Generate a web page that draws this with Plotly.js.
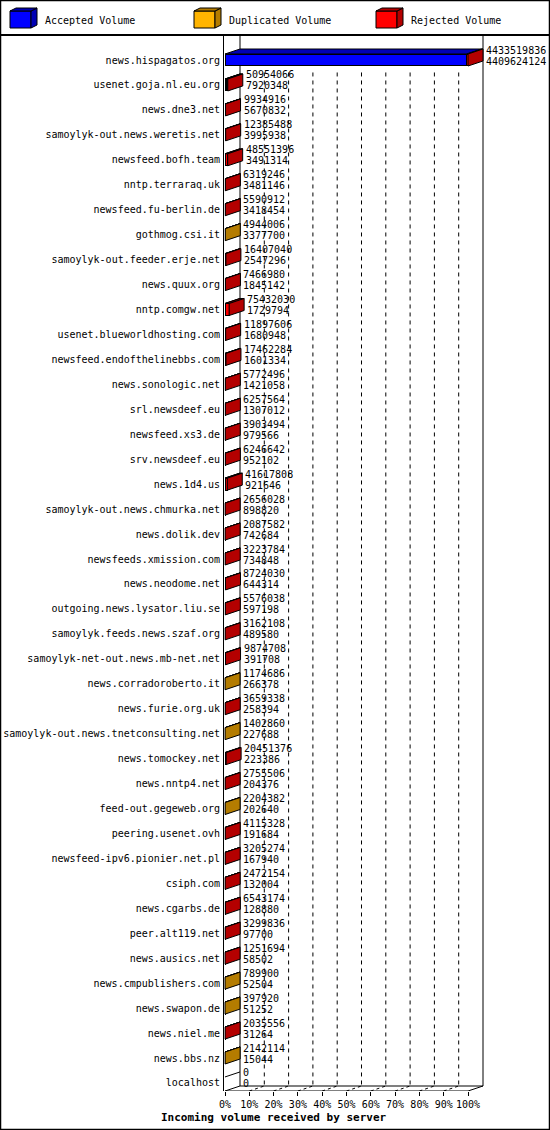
<!DOCTYPE html>
<html>
<head>
<meta charset="utf-8">
<script src="https://cdn.plot.ly/plotly-3.0.1.min.js"></script>
<style>
html, body { margin: 0; padding: 0; background: #fff; }
#chart { width: 550px; height: 1130px; }
</style>
</head>
<body>
<div id="chart"></div>
<script>
'use strict'
/* global Plotly */

// servers, in the order of the chart (sorted by accepted volume)
const servers = [
  'news.hispagatos.org', 'usenet.goja.nl.eu.org', 'news.dne3.net',
  'samoylyk-out.news.weretis.net', 'newsfeed.bofh.team', 'nntp.terraraq.uk',
  'newsfeed.fu-berlin.de', 'gothmog.csi.it', 'samoylyk-out.feeder.erje.net',
  'news.quux.org', 'nntp.comgw.net', 'usenet.blueworldhosting.com',
  'newsfeed.endofthelinebbs.com', 'news.sonologic.net', 'srl.newsdeef.eu',
  'newsfeed.xs3.de', 'srv.newsdeef.eu', 'news.1d4.us',
  'samoylyk-out.news.chmurka.net', 'news.dolik.dev', 'newsfeeds.xmission.com',
  'news.neodome.net', 'outgoing.news.lysator.liu.se', 'samoylyk.feeds.news.szaf.org',
  'samoylyk-net-out.news.mb-net.net', 'news.corradoroberto.it', 'news.furie.org.uk',
  'samoylyk-out.news.tnetconsulting.net', 'news.tomockey.net', 'news.nntp4.net',
  'feed-out.gegeweb.org', 'peering.usenet.ovh', 'newsfeed-ipv6.pionier.net.pl',
  'csiph.com', 'news.cgarbs.de', 'peer.alt119.net', 'news.ausics.net',
  'news.cmpublishers.com', 'news.swapon.de', 'news.niel.me', 'news.bbs.nz',
  'localhost'
]

// total incoming volume (upper number)
const totalVolume = [
  4433519836, 50954066, 9934916, 12385488, 48551396, 6319246, 5590912, 4944006,
  16407040, 7466980, 75432030, 11897606, 17462284, 5772496, 6257564, 3903494,
  6246642, 41617808, 2656028, 2087582, 3223784, 8724030, 5576038, 3162108,
  9874708, 1174686, 3659338, 1402860, 20451376, 2755506, 2204382, 4115328,
  3205274, 2472154, 6543174, 3299836, 1251694, 789900, 397920, 2035556,
  2142114, 0
]

// accepted volume (lower number)
const acceptedVolume = [
  4409624124, 7920348, 5670832, 3995938, 3491314, 3481146, 3418454, 3377700,
  2547296, 1845142, 1729794, 1680948, 1601334, 1421058, 1307012, 979566,
  952102, 921646, 898820, 742684, 734848, 644314, 597198, 489580,
  391708, 266378, 258394, 227688, 223386, 204376, 202640, 191684,
  167940, 132004, 128880, 97700, 58502, 52504, 51252, 31264,
  15044, 0
]

// duplicated volume (estimated)
const duplicatedVolume = [
  0, 20000000, 0, 0, 0, 0, 0, 1566306,
  0, 0, 0, 0, 0, 0, 0, 0,
  0, 0, 0, 0, 0, 0, 0, 0,
  0, 908308, 0, 1175172, 0, 0, 2001742, 0,
  0, 0, 0, 0, 0, 737396, 346668, 0,
  2127070, 0
]

// rejected volume (rest of the total)
const rejectedVolume = [
  23895712, 23033718, 4264084, 8389550, 45060082, 2838100, 2172458, 0,
  13859744, 5621838, 73702236, 10216658, 15860950, 4351438, 4950552, 2923928,
  5294540, 40696162, 1757208, 1344898, 2488936, 8079716, 4978840, 2672528,
  9483000, 0, 3400944, 0, 20227990, 2551130, 0, 3923644,
  3037334, 2340150, 6414294, 3202136, 1193192, 0, 0, 2004292,
  0, 0
]

const xTickValues = [0, 10, 20, 30, 40, 50, 60, 70, 80, 90, 100]
const xTickLabels = ['0%', '10%', '20%', '30%', '40%', '50%', '60%', '70%', '80%', '90%', '100%']

const segments = [
  {name: 'Accepted Volume', values: acceptedVolume, front: '#0000ff', dark: '#0000b4'},
  {name: 'Duplicated Volume', values: duplicatedVolume, front: '#ffb400', dark: '#b47c00'},
  {name: 'Rejected Volume', values: rejectedVolume, front: '#ff0000', dark: '#b40000'}
]

// page geometry, pixels
const FIG_W = 550
const FIG_H = 1130
const M = {l: 224, r: 60, t: 36, b: 39}
const PLOT_W = FIG_W - M.l - M.r
const PLOT_H = FIG_H - M.t - M.b
const ZERO_PX = 225       // 0 % on the front axis
const PX_PER_PCT = 2.43   // 100 % = 243 px
const ROW_PX = 24.95
const FIRST_ROW_PX = 60
const DEPTH_X = 15
const DEPTH_Y = 5
const HALF_BAR = 6

// same sizes in axis units
const DX = DEPTH_X / PX_PER_PCT
const DY = DEPTH_Y / ROW_PX
const HB = HALF_BAR / ROW_PX
const xRange = [(M.l - ZERO_PX) / PX_PER_PCT, (FIG_W - M.r - ZERO_PX) / PX_PER_PCT]
const yRange = [(FIG_H - M.b - FIRST_ROW_PX) / ROW_PX, (M.t - FIRST_ROW_PX) / ROW_PX]
const FLOOR = yRange[0]

// pixel -> paper helpers for the frame and the legend
const pxX = px => (px - M.l) / PLOT_W
const pxY = py => (FIG_H - M.b - py) / PLOT_H

const rows = servers.map((s, i) => i)
const maxTotal = Math.max(...totalVolume)
const pct = v => v / maxTotal * 100

function pathOf (pts) {
  return 'M' + pts.map(p => p[0] + ',' + p[1]).join('L') + 'Z'
}

function face (pts, fill, ref) {
  return {
    type: 'path',
    xref: ref || 'x',
    yref: ref || 'y',
    layer: 'above',
    path: pathOf(pts),
    fillcolor: fill,
    line: {color: '#000', width: 1}
  }
}

function line (x0, y0, x1, y1, dash, ref) {
  return {
    type: 'line',
    xref: ref || 'x',
    yref: ref || 'y',
    layer: 'below',
    x0: x0, y0: y0, x1: x1, y1: y1,
    line: {color: '#000', width: 1, dash: dash || 'solid'}
  }
}

// front faces of the bars
const traces = segments.map(seg => ({
  type: 'bar',
  orientation: 'h',
  name: seg.name,
  y: rows,
  x: seg.values.map(v => v > 0 ? pct(v) : null),
  width: 0.48,
  marker: {color: seg.front, line: {color: '#000', width: 1}},
  hoverinfo: 'skip',
  showlegend: false
}))

const shapes = []

// walls, grid and floor
shapes.push(line(DX, yRange[1], DX, FLOOR - DY))
shapes.push(line(100 + DX, yRange[1], 100 + DX, FLOOR - DY))
for (let k = 1; k < xTickValues.length - 1; k++) {
  shapes.push(line(xTickValues[k] + DX, 0.5, xTickValues[k] + DX, FLOOR - DY, '4px,4px'))
}
for (let k = 0; k < xTickValues.length; k++) {
  shapes.push(line(xTickValues[k], FLOOR, xTickValues[k] + DX, FLOOR - DY, k === 0 || k === xTickValues.length - 1 ? 'solid' : '3px,3px'))
}
shapes.push(line(0, FLOOR, 100, FLOOR))
shapes.push(line(DX, FLOOR - DY, 100 + DX, FLOOR - DY))

// top and side faces, value labels
const annotations = []
rows.forEach(i => {
  const top = i - HB
  const bottom = i + HB
  let cum = 0
  let last = null
  segments.forEach(seg => {
    const v = seg.values[i]
    if (v <= 0) return
    const a = pct(cum)
    const b = pct(cum + v)
    shapes.push(face([[a, top], [b, top], [b + DX, top - DY], [a + DX, top - DY]], seg.dark))
    cum += v
    last = seg
  })
  const end = pct(totalVolume[i])
  if (last) {
    shapes.push(face([[end, bottom], [end, top], [end + DX, top - DY], [end + DX, bottom - DY]], last.dark))
  } else {
    shapes.push(Object.assign(line(0, top, DX, top - DY), {layer: 'above'}))
  }
  annotations.push({
    xref: 'x', yref: 'y', x: end + DX, y: i, xanchor: 'left', yanchor: 'middle',
    xshift: 1, yshift: 10, showarrow: false, text: String(totalVolume[i])
  })
  annotations.push({
    xref: 'x', yref: 'y', x: end + DX, y: i, xanchor: 'left', yanchor: 'middle',
    xshift: 1, yshift: -1, showarrow: false, text: String(acceptedVolume[i])
  })
})

// frame and legend
shapes.push({
  type: 'rect', xref: 'paper', yref: 'paper', layer: 'above',
  x0: pxX(0.5), x1: pxX(549.5), y0: pxY(0.5), y1: pxY(1129.5),
  line: {color: '#000', width: 1.5}
})
shapes.push(Object.assign(line(pxX(0), pxY(35), pxX(550), pxY(35), 'solid', 'paper'), {line: {color: '#000', width: 2}}))

const legendBoxX = [10, 194, 376]
segments.forEach((seg, k) => {
  const bx = legendBoxX[k]
  const P = (x, y) => [pxX(x), pxY(y)]
  shapes.push(face([P(bx, 11), P(bx + 21, 11), P(bx + 21, 28), P(bx, 28)], seg.front, 'paper'))
  shapes.push(face([P(bx + 21, 11), P(bx + 27, 8), P(bx + 27, 25), P(bx + 21, 28)], seg.dark, 'paper'))
  shapes.push(face([P(bx, 11), P(bx + 6, 8), P(bx + 27, 8), P(bx + 21, 11)], seg.dark, 'paper'))
  annotations.push({
    xref: 'paper', yref: 'paper', x: pxX(bx + 33), y: pxY(20), xanchor: 'left', yanchor: 'middle',
    showarrow: false, text: seg.name
  })
})

annotations.push({
  xref: 'paper', yref: 'paper', x: pxX(274), y: pxY(1117), xanchor: 'center', yanchor: 'middle',
  showarrow: false, text: '<b>Incoming volume received by server</b>', font: {size: 11}
})

const layout = {
  width: FIG_W,
  height: FIG_H,
  margin: M,
  paper_bgcolor: '#fff',
  plot_bgcolor: '#fff',
  font: {family: 'DejaVu Sans Mono', size: 10, color: '#000'},
  barmode: 'stack',
  bargap: 0,
  showlegend: false,
  hovermode: false,
  xaxis: {
    range: xRange,
    showgrid: false,
    zeroline: false,
    showline: false,
    tickvals: xTickValues,
    ticktext: xTickLabels,
    ticks: 'outside',
    ticklen: 4,
    tickcolor: '#000',
    tickfont: {size: 10}
  },
  yaxis: {
    range: yRange,
    showgrid: false,
    zeroline: false,
    showline: true,
    linecolor: '#000',
    linewidth: 1,
    tickvals: rows,
    ticktext: servers,
    ticks: '',
    ticklabelstandoff: 1,
    tickfont: {size: 10}
  },
  shapes: shapes,
  annotations: annotations
}

Plotly.newPlot('chart', traces, layout, {displayModeBar: false, staticPlot: true})
</script>
</body>
</html>
